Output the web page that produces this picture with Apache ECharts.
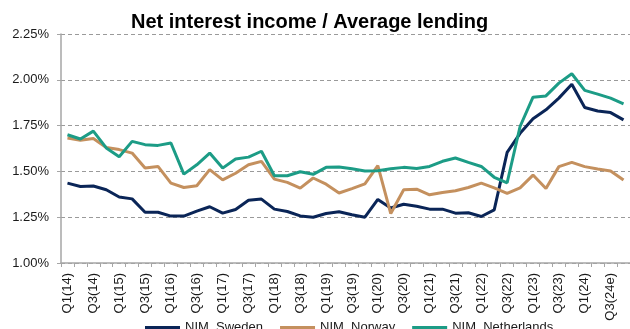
<!DOCTYPE html>
<html>
<head>
<meta charset="utf-8">
<script src="https://cdn.jsdelivr.net/npm/echarts@6/dist/echarts.min.js"></script>
<style>
  html, body { margin: 0; padding: 0; background: #fff; }
  #chart { width: 630px; height: 329px; }
</style>
</head>
<body>
<div id="chart"></div>
<script>
// Quarter labels, 2014 through 2024 (2024 H2 estimated)
const quarters = [
  'Q1(14)','Q2(14)','Q3(14)','Q4(14)',
  'Q1(15)','Q2(15)','Q3(15)','Q4(15)',
  'Q1(16)','Q2(16)','Q3(16)','Q4(16)',
  'Q1(17)','Q2(17)','Q3(17)','Q4(17)',
  'Q1(18)','Q2(18)','Q3(18)','Q4(18)',
  'Q1(19)','Q2(19)','Q3(19)','Q4(19)',
  'Q1(20)','Q2(20)','Q3(20)','Q4(20)',
  'Q1(21)','Q2(21)','Q3(21)','Q4(21)',
  'Q1(22)','Q2(22)','Q3(22)','Q4(22)',
  'Q1(23)','Q2(23)','Q3(23)','Q4(23)',
  'Q1(24)','Q2(24)','Q3(24e)','Q4(24e)'
];

// Net interest margin, % of average lending
const nimSweden = [
  1.436, 1.418, 1.420, 1.400, 1.360, 1.350, 1.277, 1.277,
  1.256, 1.256, 1.283, 1.307, 1.272, 1.292, 1.342, 1.349,
  1.294, 1.281, 1.257, 1.250, 1.270, 1.280, 1.263, 1.250,
  1.347, 1.300, 1.321, 1.310, 1.294, 1.294, 1.272, 1.274,
  1.254, 1.290, 1.604, 1.708, 1.787, 1.836, 1.900, 1.976,
  1.849, 1.830, 1.821, 1.781
];
const nimNorway = [
  1.682, 1.670, 1.679, 1.631, 1.619, 1.600, 1.518, 1.527,
  1.436, 1.412, 1.422, 1.510, 1.454, 1.490, 1.536, 1.555,
  1.458, 1.440, 1.409, 1.464, 1.430, 1.382, 1.406, 1.432,
  1.531, 1.270, 1.400, 1.403, 1.372, 1.385, 1.394, 1.412,
  1.436, 1.410, 1.380, 1.410, 1.480, 1.407, 1.526, 1.549,
  1.526, 1.513, 1.502, 1.453
];
const nimNetherlands = [
  1.700, 1.677, 1.720, 1.628, 1.580, 1.664, 1.646, 1.642,
  1.655, 1.485, 1.536, 1.600, 1.518, 1.568, 1.578, 1.610,
  1.476, 1.476, 1.498, 1.484, 1.522, 1.524, 1.514, 1.502,
  1.503, 1.515, 1.522, 1.516, 1.527, 1.555, 1.573, 1.549,
  1.527, 1.468, 1.438, 1.745, 1.905, 1.912, 1.982, 2.033,
  1.942, 1.922, 1.900, 1.869
];

const yTicks = { min: 1.00, max: 2.25, step: 0.25 };

const colors = { sweden: '#0a2557', norway: '#c4905e', netherlands: '#1c9c86' };
const fontFamily = '"Liberation Sans", Arial, Helvetica, sans-serif';

const chart = echarts.init(document.getElementById('chart'), null, { renderer: 'canvas' });

const mkSeries = (name, data, color) => ({
  name,
  type: 'line',
  data,
  symbol: 'none',
  smooth: false,
  lineStyle: { width: 3, color },
  itemStyle: { color },
  emphasis: { disabled: true }
});

chart.setOption({
  animation: false,
  backgroundColor: '#ffffff',
  textStyle: { fontFamily },
  title: {
    text: 'Net interest income / Average lending',
    left: 126,
    top: 7,
    textStyle: { fontFamily, fontSize: 20, fontWeight: 'bold', color: '#000' }
  },
  grid: { left: 61, right: -3, top: 34, bottom: 66, containLabel: false },
  legend: {
    bottom: -10,
    left: 140,
    itemWidth: 35,
    itemHeight: 3,
    itemGap: 17,
    icon: 'rect',
    textStyle: { fontFamily, fontSize: 13, color: '#1a1a1a' },
    data: ['NIM. Sweden', 'NIM. Norway', 'NIM. Netherlands']
  },
  xAxis: {
    type: 'category',
    data: quarters,
    boundaryGap: true,
    axisLine: { show: true, lineStyle: { color: '#a6a6a6', width: 1.5 } },
    axisTick: { show: true, interval: 0, length: 4, alignWithLabel: false, lineStyle: { color: '#a6a6a6', width: 1 } },
    axisLabel: {
      interval: 1,
      rotate: 90,
      margin: 10,
      fontSize: 13,
      color: '#1a1a1a',
      fontFamily
    },
    splitLine: { show: false }
  },
  yAxis: {
    type: 'value',
    min: yTicks.min,
    max: yTicks.max,
    interval: yTicks.step,
    axisLine: { show: true, lineStyle: { color: '#a6a6a6', width: 1.5 } },
    axisTick: { show: true, length: 4, inside: false, lineStyle: { color: '#a6a6a6', width: 1 } },
    axisLabel: {
      margin: 12,
      fontSize: 13,
      color: '#1a1a1a',
      fontFamily,
      formatter: v => v.toFixed(2) + '%'
    },
    splitLine: { show: true, lineStyle: { color: '#9a9a9a', type: [4, 3], width: 1 } }
  },
  series: [
    mkSeries('NIM. Sweden', nimSweden, colors.sweden),
    mkSeries('NIM. Norway', nimNorway, colors.norway),
    mkSeries('NIM. Netherlands', nimNetherlands, colors.netherlands)
  ]
});
</script>
</body>
</html>
